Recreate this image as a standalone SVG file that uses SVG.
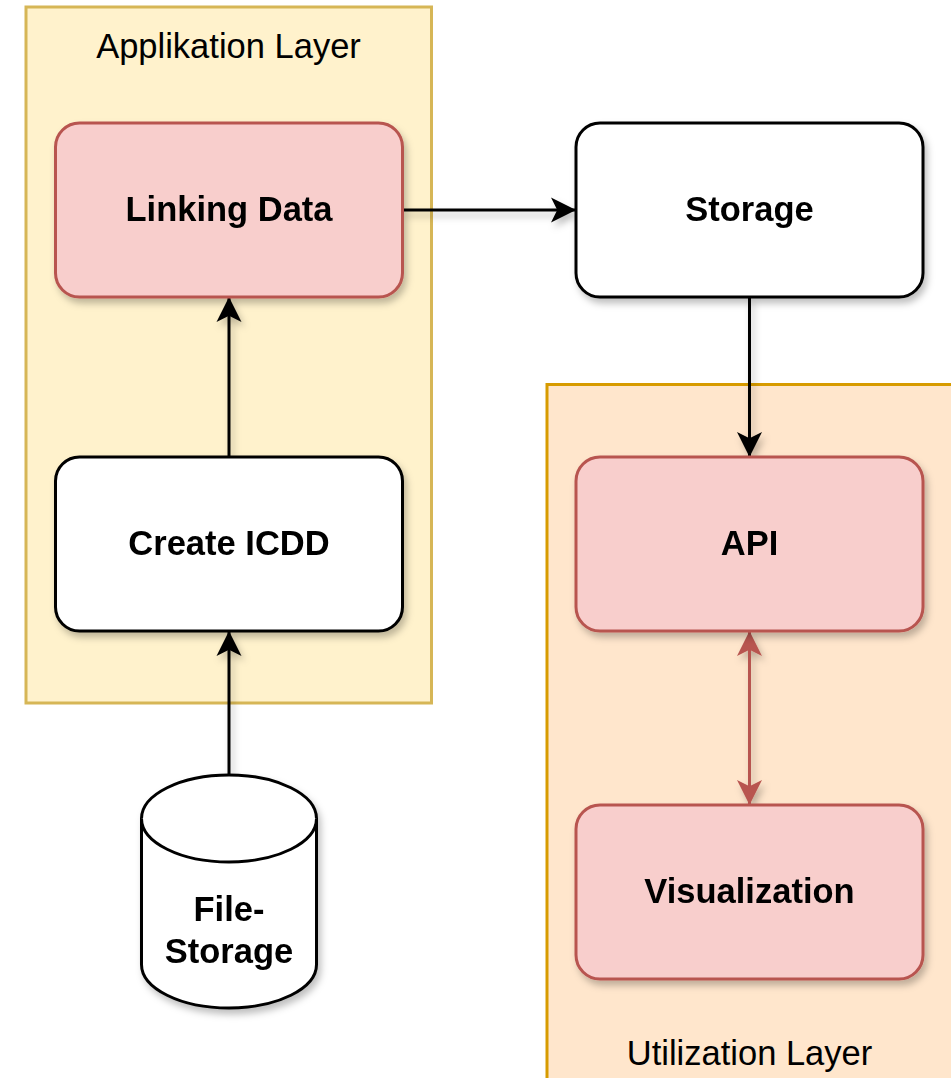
<svg xmlns="http://www.w3.org/2000/svg" width="951" height="1078" viewBox="0 0 951 1078">
  <defs>
    <filter id="shadow" x="-20%" y="-20%" width="140%" height="150%">
      <feDropShadow dx="3" dy="5" stdDeviation="3.5" flood-color="#000" flood-opacity="0.25"/>
    </filter>
    <marker id="arrow-black" viewBox="0 0 25 26" refX="25" refY="13" markerWidth="25" markerHeight="26" markerUnits="userSpaceOnUse" orient="auto-start-reverse">
      <path d="M25,13 L0,0.5 L6.25,13 L0,25.5 Z" fill="#000"/>
    </marker>
    <marker id="arrow-red" viewBox="0 0 25 26" refX="25" refY="13" markerWidth="25" markerHeight="26" markerUnits="userSpaceOnUse" orient="auto-start-reverse">
      <path d="M25,13 L0,0.5 L6.25,13 L0,25.5 Z" fill="#b85450"/>
    </marker>
  </defs>
  <style>
    .layer-app { fill: #fff2cc; stroke: #d6b656; stroke-width: 3; }
    .layer-use { fill: #ffe6cc; stroke: #d79b00; stroke-width: 3; }
    .box-plain { fill: #ffffff; stroke: #000000; stroke-width: 3; }
    .box-red { fill: #f8cecc; stroke: #b85450; stroke-width: 3; }
    .title { font-family: "Liberation Sans", Arial, sans-serif; font-size: 34.5px; fill: #000; text-anchor: middle; }
    .label { font-family: "Liberation Sans", Arial, sans-serif; font-size: 34.5px; font-weight: bold; fill: #000; text-anchor: middle; }
    .edge { fill: none; stroke: #000; stroke-width: 3; }
    .edge-red { fill: none; stroke: #b85450; stroke-width: 3; }
  </style>

  <!-- containers -->
  <g id="applikation-layer">
    <rect class="layer-app" x="26" y="7" width="405.5" height="696"/>
    <text class="title" x="228.5" y="58">Applikation Layer</text>
  </g>
  <g id="utilization-layer">
    <rect class="layer-use" x="547" y="384.5" width="420" height="720"/>
    <text class="title" x="749.5" y="1065">Utilization Layer</text>
  </g>

  <!-- connectors -->
  <g id="connectors" filter="url(#shadow)">
    <path class="edge" d="M402.5,210 L576,210" marker-end="url(#arrow-black)"/>
    <path class="edge" d="M749.5,297 L749.5,457" marker-end="url(#arrow-black)"/>
    <path class="edge" d="M229,457 L229,297" marker-end="url(#arrow-black)"/>
    <path class="edge" d="M229,775 L229,631" marker-end="url(#arrow-black)"/>
    <path class="edge-red" d="M749.5,631 L749.5,805" marker-start="url(#arrow-red)" marker-end="url(#arrow-red)"/>
  </g>

  <!-- nodes -->
  <g id="linking-data" filter="url(#shadow)">
    <rect class="box-red" x="55.5" y="123" width="347" height="174" rx="24" ry="24"/>
    <text class="label" x="229" y="221">Linking Data</text>
  </g>
  <g id="storage" filter="url(#shadow)">
    <rect class="box-plain" x="576" y="123" width="347" height="174" rx="24" ry="24"/>
    <text class="label" x="749.5" y="221">Storage</text>
  </g>
  <g id="create-icdd" filter="url(#shadow)">
    <rect class="box-plain" x="55.5" y="457" width="347" height="174" rx="24" ry="24"/>
    <text class="label" x="229" y="555">Create ICDD</text>
  </g>
  <g id="api" filter="url(#shadow)">
    <rect class="box-red" x="576" y="457" width="347" height="174" rx="24" ry="24"/>
    <text class="label" x="749.5" y="555">API</text>
  </g>
  <g id="visualization" filter="url(#shadow)">
    <rect class="box-red" x="576" y="805" width="347" height="174" rx="24" ry="24"/>
    <text class="label" x="749.5" y="903">Visualization</text>
  </g>
  <g id="file-storage" filter="url(#shadow)">
    <path class="box-plain" d="M141.5,818.5 A87.5,43.5 0 0 1 316.5,818.5 L316.5,964.5 A87.5,43.5 0 0 1 141.5,964.5 Z"/>
    <path class="box-plain" d="M141.5,818.5 A87.5,43.5 0 0 0 316.5,818.5" fill="none"/>
    <text class="label" x="229" y="921">File-</text>
    <text class="label" x="229" y="963">Storage</text>
  </g>
</svg>
